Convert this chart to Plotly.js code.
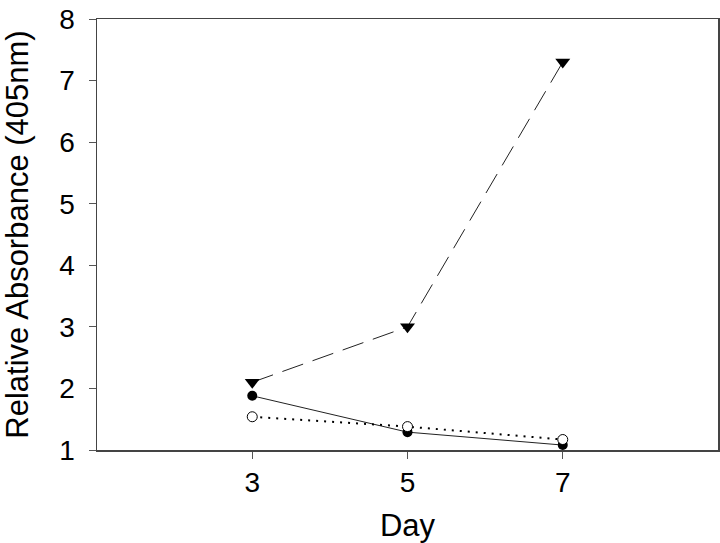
<!DOCTYPE html>
<html>
<head>
<meta charset="utf-8">
<script src="https://cdn.plot.ly/plotly-3.0.1.min.js"></script>
<style>
  html, body { margin: 0; padding: 0; background: #fff; }
  #chart { width: 720px; height: 543px; }
</style>
</head>
<body>
<div id="chart"></div>
<script>
// values
const days = [3, 5, 7];
const triangleSeries = [2.1, 3.0, 7.3];
const filledCircleSeries = [1.88, 1.29, 1.08];
const openCircleSeries = [1.54, 1.38, 1.17];

const lineColor = '#222';

const traces = [
    {
        x: days, y: filledCircleSeries,
        mode: 'lines+markers', type: 'scatter',
        line: { color: lineColor, width: 1, dash: 'solid' },
        marker: { symbol: 'circle', size: 10, color: '#000' },
        cliponaxis: false
    },
    {
        x: days, y: openCircleSeries,
        mode: 'lines+markers', type: 'scatter',
        line: { color: '#000', width: 2, dash: '2px,6px' },
        marker: { symbol: 'circle', size: 10, color: '#fff', line: { color: '#000', width: 1 } },
        cliponaxis: false
    },
    {
        x: days, y: triangleSeries,
        mode: 'lines+markers', type: 'scatter',
        line: { color: lineColor, width: 1, dash: '22px,10px' },
        marker: { symbol: 'triangle-down', size: 13, color: '#000' },
        cliponaxis: false
    }
];

const fontFamily = 'Liberation Sans, Arial, sans-serif';
const tickFont = { family: fontFamily, size: 28, color: '#000' };
const titleFont = { family: fontFamily, size: 31, color: '#000' };

const layout = {
    width: 720, height: 543,
    margin: { l: 97, r: 2, t: 19, b: 93 },
    showlegend: false,
    paper_bgcolor: '#fff', plot_bgcolor: '#fff',
    xaxis: {
        range: [1, 9],
        tickvals: days,
        ticks: 'outside', ticklen: 7, tickcolor: '#555', tickwidth: 1,
        showline: true, linecolor: '#444', linewidth: 1.5, mirror: true,
        showgrid: false, zeroline: false,
        tickfont: tickFont,
        title: { text: 'Day', font: titleFont, standoff: 20 }
    },
    yaxis: {
        range: [1, 8],
        dtick: 1,
        ticks: 'outside', ticklen: 7, tickcolor: '#555', tickwidth: 1,
        showline: true, linecolor: '#444', linewidth: 1.5, mirror: true,
        showgrid: false, zeroline: false,
        tickfont: tickFont,
        ticklabelstandoff: 8,
        title: { text: 'Relative Absorbance (405nm)', font: titleFont, standoff: 27 }
    }
};

Plotly.newPlot('chart', traces, layout, { displayModeBar: false, staticPlot: true });
</script>
</body>
</html>
